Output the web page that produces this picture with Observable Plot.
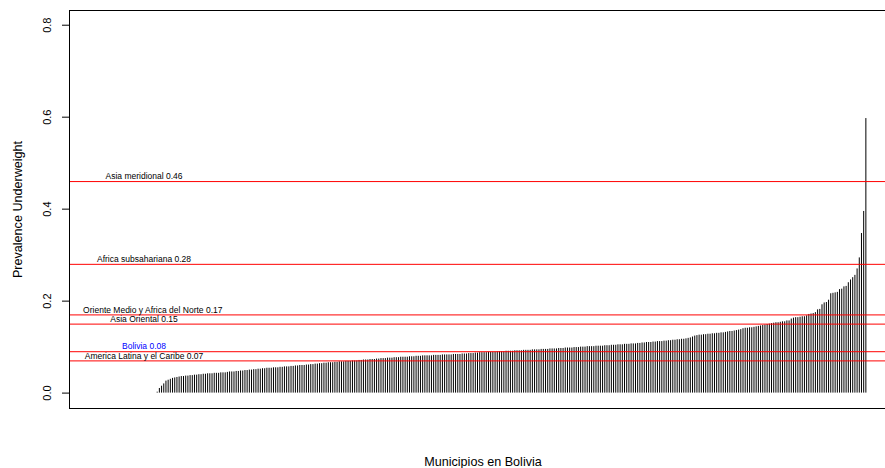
<!DOCTYPE html>
<html>
<head>
<meta charset="utf-8">
<script src="https://cdn.jsdelivr.net/npm/d3@7"></script>
<script src="https://cdn.jsdelivr.net/npm/@observablehq/plot@0.6"></script>
<style>
  html, body { margin: 0; padding: 0; background: white; overflow: hidden; }
  #chart { width: 885px; height: 468px; overflow: hidden; }
</style>
</head>
<body>
<div id="chart"></div>
<script>
// Sorted prevalence of underweight per municipality (index 1..n); leading entries are zero-height
const prevalence = [
  0,0,0,0,0,0,0,0,0,0,0,0,0,0,0,0,0,0,0,0,0,0,0,0,0,0,
  0.002,0.010,0.015,0.020,0.026,0.028,0.030,0.032,0.033,0.034,0.035,0.036,0.036,0.037,0.037,0.038,0.038,0.039,0.039,0.040,0.040,0.041,0.041,0.042,
  0.042,0.042,0.043,0.043,0.043,0.044,0.044,0.044,0.045,0.046,
  0.046,0.046,0.047,0.047,0.048,0.048,0.049,0.049,0.050,0.050,
  0.051,0.051,0.052,0.052,0.053,0.053,0.054,0.054,0.054,0.055,
  0.055,0.055,0.056,0.056,0.057,0.057,0.057,0.058,0.058,0.059,
  0.059,0.060,0.060,0.060,0.061,0.061,0.062,0.062,0.063,0.063,
  0.064,0.064,0.065,0.065,0.066,0.066,0.066,0.067,0.067,0.068,
  0.068,0.068,0.069,0.069,0.069,0.070,0.070,0.070,0.071,0.071,
  0.072,0.072,0.072,0.073,0.073,0.073,0.074,0.074,0.075,0.075,
  0.075,0.076,0.076,0.076,0.077,0.077,0.077,0.078,0.078,0.078,
  0.078,0.079,0.079,0.079,0.080,0.080,0.080,0.081,0.081,0.081,
  0.081,0.081,0.082,0.082,0.082,0.082,0.083,0.083,0.083,0.083,
  0.083,0.084,0.084,0.084,0.084,0.085,0.085,0.085,0.086,0.086,
  0.086,0.087,0.087,0.088,0.088,0.088,0.088,0.089,0.089,0.089,
  0.089,0.090,0.090,0.090,0.090,0.091,0.091,0.091,0.091,0.092,
  0.092,0.092,0.092,0.093,0.093,0.093,0.093,0.094,0.094,0.094,
  0.094,0.095,0.095,0.095,0.095,0.096,0.096,0.096,0.096,0.097,
  0.097,0.097,0.098,0.098,0.098,0.098,0.099,0.099,0.099,0.100,
  0.100,0.100,0.101,0.101,0.101,0.101,0.102,0.102,0.102,0.102,
  0.103,0.103,0.103,0.104,0.104,0.104,0.105,0.105,0.105,0.106,
  0.106,0.106,0.107,0.107,0.107,0.108,0.108,0.109,0.109,0.110,
  0.110,0.110,0.111,0.111,0.112,0.112,0.112,0.113,0.113,0.114,
  0.114,0.115,0.115,0.116,0.116,0.117,0.117,0.118,0.119,0.120,
  0.122,0.124,0.125,0.126,0.126,0.127,0.127,0.128,0.128,0.129,
  0.129,0.130,0.130,0.131,0.131,0.132,0.133,0.134,0.134,0.135,
  0.136,0.137,0.138,0.140,0.141,0.141,0.142,0.142,0.143,0.144,
  0.145,0.146,0.147,0.148,0.149,0.150,0.151,0.152,0.153,0.153,
  0.154,0.155,0.155,0.157,0.157,0.161,0.163,0.164,0.164,0.165,
  0.166,0.166,0.168,0.171,0.172,0.173,0.175,0.181,0.182,0.192,
  0.196,0.197,0.202,0.216,0.217,0.218,0.219,0.225,0.226,0.231,
  0.232,0.240,0.246,0.251,0.256,0.270,0.294,0.347,0.395,0.597
];

// Reference lines (regional prevalence)
const refValues = [0.46, 0.28, 0.17, 0.15, 0.09, 0.07];
const refLabels = [
  "Asia meridional 0.46",
  "Africa subsahariana 0.28",
  "Oriente Medio y Africa del Norte 0.17",
  "Asia Oriental 0.15",
  "Bolivia 0.08",
  "America Latina y el Caribe 0.07"
];

const yTicks = [0, 0.2, 0.4, 0.6, 0.8];
const yLabel = "Prevalence Underweight";
const xLabel = "Municipios en Bolivia";

const n = prevalence.length;
const bars = prevalence.map((v, i) => ({index: i + 1, value: v}));
const refs = refValues.map((v, i) => ({value: v, label: refLabels[i]}));

const padX = 0.04 * (n - 1);
const font = "'Liberation Sans', Arial, Helvetica, sans-serif";

const chart = Plot.plot({
  width: 897,
  height: 468,
  marginLeft: 69,
  marginRight: 1,
  marginTop: 10,
  marginBottom: 60,
  style: {fontFamily: font, background: "white", maxWidth: "none", overflow: "visible"},
  x: {domain: [1 - padX, n + padX], axis: null},
  y: {domain: [-0.0335, 0.832]},
  marks: [
    Plot.ruleX(bars, {x: "index", y1: 0, y2: "value", stroke: "black", strokeWidth: 1}),
    Plot.ruleY(refs, {y: "value", stroke: "#ff0000", strokeWidth: 1}),
    Plot.text(refs, {
      x: d => d.label.startsWith("Oriente") ? 25 : 21,
      y: d => d.value + 0.011,
      text: "label",
      fill: d => d.label.startsWith("Bolivia") ? "#0000ff" : "black",
      fontSize: 8.5,
      textAnchor: "middle",
      lineAnchor: "middle"
    }),
    Plot.frame({stroke: "black"}),
    Plot.axisY({ticks: yTicks, tickSize: 7, tickFormat: () => "", label: null, stroke: "black"}),
    Plot.text(yTicks, {
      y: d => d,
      text: d => d.toFixed(1),
      frameAnchor: "left",
      dx: -22,
      rotate: -90,
      textAnchor: "middle",
      lineAnchor: "middle",
      fontSize: 11,
      fill: "black"
    }),
    Plot.text([yLabel], {
      text: d => d,
      frameAnchor: "left",
      dx: -52,
      rotate: -90,
      textAnchor: "middle",
      lineAnchor: "middle",
      fontSize: 12.6,
      fill: "black"
    }),
    Plot.text([xLabel], {
      text: d => d,
      frameAnchor: "bottom",
      dy: 53,
      textAnchor: "middle",
      lineAnchor: "middle",
      fontSize: 12.6,
      fill: "black"
    })
  ]
});

document.getElementById("chart").appendChild(chart);
</script>
</body>
</html>
